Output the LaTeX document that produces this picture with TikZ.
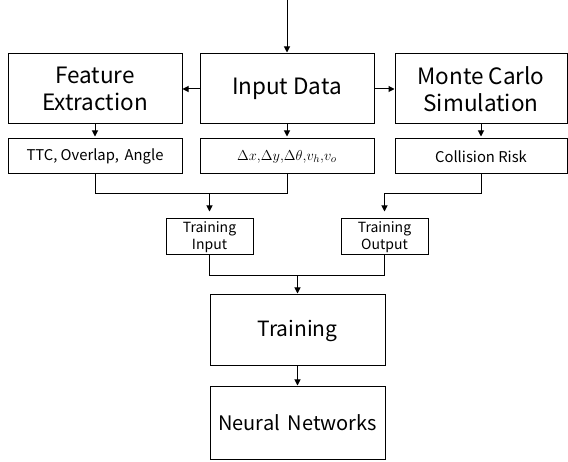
\documentclass[tikz,border=0pt]{standalone}
\usepackage{fontspec}
\setmainfont{Noto Sans CJK KR}
\usetikzlibrary{arrows.meta}
\begin{document}
\begin{tikzpicture}[x=1pt,y=-1pt,
  box/.style={draw=black, line width=1pt, rectangle, inner sep=0pt, align=center},
  bigbox/.style={box, minimum height=70pt, font=\fontsize{22.5}{26.5}\selectfont},
  midbox/.style={box, minimum height=35pt, font=\fontsize{14.8}{17}\selectfont},
  smallbox/.style={box, minimum width=87pt, minimum height=36pt, font=\fontsize{14}{17}\selectfont},
  arr/.style={line width=1pt, -{Triangle[length=6pt,width=6pt]}},
  ln/.style={line width=1pt}]
\useasboundingbox (0,0) rectangle (568,462);
% top row
\node[bigbox, minimum width=174pt] (feat) at (95,89) {Feature\\Extraction};
\node[bigbox, minimum width=174pt] (inp) at (287,89) {Input Data};
\node[bigbox, minimum width=172pt] (mc) at (481,89) {Monte Carlo\\Simulation};
% second row
\node[midbox, minimum width=174pt] (ttc) at (95,156.5) {TTC, Overlap,\, Angle};
\node[midbox, minimum width=174pt] (dx) at (287,156.5) {\fontsize{15}{17}\selectfont$\Delta x,\!\Delta y,\!\Delta\theta,\!v_h,\!v_o$};
\node[midbox, minimum width=172pt] (cr) at (481,156.5) {Collision Risk};
% training input/output
\node[smallbox] (tin) at (209.5,237) {Training\\Input};
\node[smallbox] (tout) at (384.5,237) {Training\\Output};
% training and NN
\node[bigbox, minimum width=175pt, minimum height=71pt, font=\fontsize{21}{25}\selectfont] (tr) at (297.5,330.5) {Training};
\node[bigbox, minimum width=175pt, minimum height=72pt, font=\fontsize{20}{24}\selectfont] (nn) at (297.5,423) {Neural\, Networks};
% coordinates
\coordinate (top) at (287,0);
\coordinate (j1) at (0,193.3);
\coordinate (j2) at (0,275.3);
% arrows
\draw[arr, shorten >=1pt] (top) -- (inp.north);
\draw[arr] (inp.west) -- (feat.east);
\draw[arr] (inp.east) -- (mc.west);
\draw[arr, shorten >=2pt] (feat.south) -- (ttc.north);
\draw[arr, shorten >=2pt] (inp.south) -- (dx.north);
\draw[arr, shorten >=2pt] (mc.south) -- (cr.north);
% join 1
\draw[ln] (ttc.south) -- (ttc.south |- j1) -- (dx.south |- j1) -- (dx.south);
\draw[arr, shorten >=7pt] (tin.north |- j1) -- (tin.north);
\draw[ln] (cr.south) -- (cr.south |- j1) -- (tout.north |- j1);
\draw[arr, shorten >=7pt] (tout.north |- j1) -- (tout.north);
% join 2
\draw[ln] (tin.south) -- (tin.south |- j2) -- (tout.south |- j2) -- (tout.south);
\draw[arr, shorten >=1pt] (tr.north |- j2) -- (tr.north);
\draw[arr, shorten >=1pt] (tr.south) -- (nn.north);
\end{tikzpicture}
\end{document}
